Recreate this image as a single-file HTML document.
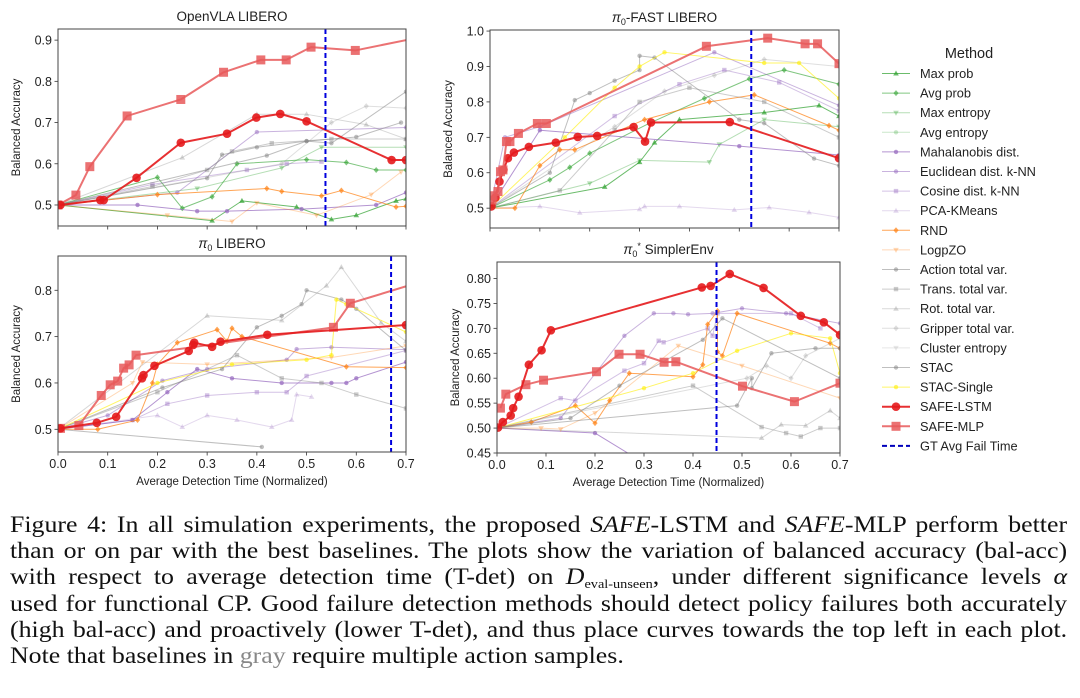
<!DOCTYPE html>
<html><head><meta charset="utf-8">
<style>
html,body{margin:0;padding:0;background:#fff;}
body{width:1080px;height:698px;overflow:hidden;position:relative;font-family:"Liberation Sans",sans-serif;}
#cap{position:absolute;left:10px;top:512px;width:961px;transform:scaleX(1.1);transform-origin:0 0;font-family:"Liberation Serif",serif;font-size:23.5px;line-height:26.2px;color:#111;}
#cap div{text-align:justify;text-align-last:justify;white-space:nowrap;height:26.2px;}
#cap div.last{text-align-last:left;}
#cap sub{font-size:13px;line-height:0;vertical-align:-4px;}
</style></head><body>
<svg id="fig" width="1080" height="500" style="position:absolute;left:0;top:0" xmlns="http://www.w3.org/2000/svg"></svg>
<div id="cap">
<div>Figure 4: In all simulation experiments, the proposed <i>SAFE</i>-LSTM and <i>SAFE</i>-MLP perform better</div>
<div>than or on par with the best baselines. The plots show the variation of balanced accuracy (bal-acc)</div>
<div>with respect to average detection time (T-det) on <i>D</i><sub>eval-unseen</sub>, under different significance levels <i>α</i></div>
<div>used for functional CP. Good failure detection methods should detect policy failures both accurately</div>
<div>(high bal-acc) and proactively (lower T-det), and thus place curves towards the top left in each plot.</div>
<div class="last">Note that baselines in <span style="color:#888">gray</span> require multiple action samples.</div>
</div>
<script>
// ---------- data ----------
const xTicks=[0,0.1,0.2,0.3,0.4,0.5,0.6,0.7];
const gtFail=[0.538,0.524,0.670,0.448];
// OpenVLA LIBERO
const p1_lstm=[[0.005,0.5],[0.085,0.512],[0.092,0.512],[0.158,0.566],[0.247,0.651],[0.34,0.673],[0.399,0.712],[0.447,0.721],[0.5,0.703],[0.671,0.609],[0.7,0.609]];
const p1_mlp=[[0,0.5],[0.036,0.524],[0.064,0.593],[0.139,0.716],[0.247,0.756],[0.333,0.822],[0.408,0.852],[0.459,0.852],[0.509,0.883],[0.598,0.875],[0.72,0.905]];
const p1_maxprob=[[0,0.5],[0.31,0.462],[0.37,0.51],[0.48,0.495],[0.55,0.465],[0.6,0.475],[0.68,0.51],[0.7,0.515]];
const p1_avgprob=[[0,0.5],[0.2,0.567],[0.25,0.492],[0.31,0.52],[0.36,0.6],[0.5,0.61],[0.58,0.603],[0.64,0.585],[0.7,0.585]];
const p1_maxent=[[0,0.5],[0.28,0.54],[0.45,0.59],[0.53,0.64],[0.7,0.64]];
const p1_mahal=[[0,0.5],[0.16,0.5],[0.28,0.485],[0.34,0.485],[0.49,0.49],[0.64,0.5],[0.7,0.53]];
const p1_eucl=[[0,0.5],[0.24,0.53],[0.4,0.677],[0.7,0.688]];
const p1_cos=[[0,0.5],[0.19,0.55],[0.38,0.585],[0.46,0.6],[0.53,0.605]];
const p1_rnd=[[0,0.5],[0.2,0.525],[0.42,0.54],[0.45,0.533],[0.53,0.522],[0.57,0.535],[0.68,0.495],[0.7,0.497]];
const p1_logp=[[0,0.5],[0.22,0.475],[0.35,0.46],[0.4,0.505],[0.52,0.475],[0.63,0.525],[0.69,0.58]];
const p1_act=[[0,0.5],[0.3,0.565],[0.33,0.622],[0.4,0.64],[0.5,0.655],[0.6,0.665],[0.69,0.7]];
const p1_trans=[[0,0.5],[0.19,0.545],[0.3,0.585],[0.35,0.63],[0.43,0.65],[0.55,0.66],[0.7,0.66]];
const p1_rot=[[0,0.5],[0.25,0.615],[0.4,0.72],[0.5,0.72],[0.62,0.695],[0.7,0.66]];
const p1_grip=[[0,0.5],[0.45,0.6],[0.55,0.7],[0.62,0.74],[0.7,0.735]];
const p1_stac=[[0,0.5],[0.42,0.62],[0.5,0.655],[0.55,0.65],[0.7,0.775]];
// pi0-FAST LIBERO
const p2_lstm=[[0.003,0.505],[0.011,0.53],[0.019,0.575],[0.027,0.608],[0.036,0.641],[0.048,0.657],[0.078,0.673],[0.132,0.685],[0.176,0.701],[0.215,0.704],[0.288,0.729],[0.311,0.688],[0.323,0.742],[0.481,0.743],[0.7,0.641]];
const p2_mlp=[[0.004,0.523],[0.006,0.535],[0.016,0.547],[0.021,0.603],[0.026,0.608],[0.033,0.688],[0.04,0.688],[0.057,0.711],[0.095,0.739],[0.113,0.739],[0.434,0.957],[0.557,0.98],[0.632,0.964],[0.657,0.964],[0.7,0.908]];
const p2_act=[[0,0.5],[0.12,0.6],[0.17,0.805],[0.2,0.825],[0.25,0.86],[0.3,0.89],[0.3,0.93],[0.33,0.925],[0.5,0.75],[0.55,0.74],[0.65,0.64],[0.7,0.62]];
const p2_stacs=[[0,0.5],[0.15,0.7],[0.25,0.84],[0.3,0.9],[0.35,0.94],[0.55,0.91],[0.62,0.91],[0.7,0.81]];
const p2_eucl=[[0,0.5],[0.03,0.7],[0.1,0.73],[0.45,0.94],[0.7,0.79]];
const p2_mahal=[[0,0.5],[0.1,0.72],[0.5,0.675],[0.7,0.65]];
const p2_cos=[[0,0.5],[0.25,0.76],[0.38,0.85],[0.47,0.89],[0.58,0.855],[0.7,0.775]];
const p2_pca=[[0,0.5],[0.1,0.505],[0.18,0.487],[0.3,0.497],[0.31,0.505],[0.38,0.505],[0.49,0.495],[0.56,0.502],[0.64,0.488],[0.7,0.474]];
const p2_rnd=[[0,0.5],[0.05,0.5],[0.1,0.62],[0.14,0.665],[0.17,0.665],[0.31,0.75],[0.44,0.8],[0.53,0.82],[0.68,0.733],[0.7,0.72]];
const p2_maxprob=[[0,0.5],[0.23,0.56],[0.3,0.63],[0.33,0.685],[0.38,0.75],[0.55,0.77],[0.66,0.79],[0.7,0.76]];
const p2_avgprob=[[0,0.5],[0.12,0.58],[0.16,0.615],[0.2,0.655],[0.32,0.74],[0.43,0.81],[0.52,0.865],[0.59,0.89],[0.7,0.85]];
const p2_maxent=[[0,0.5],[0.2,0.57],[0.3,0.635],[0.44,0.63],[0.46,0.68],[0.55,0.75],[0.7,0.73]];
const p2_trans=[[0,0.5],[0.14,0.55],[0.25,0.72],[0.3,0.8],[0.4,0.84],[0.55,0.8],[0.7,0.7]];
const p2_grip=[[0,0.5],[0.25,0.73],[0.35,0.83],[0.45,0.875],[0.55,0.92],[0.7,0.9]];
// pi0 LIBERO
const p3_lstm=[[0.005,0.502],[0.078,0.514],[0.117,0.527],[0.169,0.61],[0.172,0.617],[0.194,0.637],[0.263,0.669],[0.272,0.682],[0.274,0.687],[0.31,0.678],[0.327,0.689],[0.421,0.704],[0.7,0.725]];
const p3_mlp=[[0.005,0.502],[0.042,0.508],[0.087,0.573],[0.105,0.596],[0.12,0.604],[0.132,0.632],[0.143,0.639],[0.157,0.66],[0.554,0.72],[0.588,0.772],[0.72,0.815]];
const p3_rnd=[[0,0.5],[0.08,0.5],[0.16,0.52],[0.19,0.6],[0.2,0.64],[0.24,0.687],[0.32,0.715],[0.34,0.69],[0.35,0.718],[0.37,0.7],[0.58,0.635],[0.7,0.633]];
const p3_logp=[[0,0.5],[0.15,0.6],[0.17,0.645],[0.3,0.64],[0.55,0.655],[0.7,0.68]];
const p3_stacs=[[0,0.5],[0.2,0.6],[0.35,0.64],[0.5,0.65],[0.55,0.66],[0.56,0.78],[0.58,0.77],[0.7,0.71]];
const p3_mahal=[[0,0.5],[0.15,0.52],[0.22,0.58],[0.28,0.63],[0.35,0.61],[0.45,0.6],[0.55,0.6],[0.58,0.6],[0.6,0.61],[0.7,0.645]];
const p3_eucl=[[0,0.5],[0.1,0.53],[0.21,0.605],[0.3,0.63],[0.46,0.65],[0.48,0.673],[0.55,0.677],[0.7,0.672]];
const p3_cos=[[0,0.5],[0.15,0.52],[0.22,0.555],[0.3,0.573],[0.4,0.58],[0.46,0.58],[0.5,0.615],[0.7,0.67]];
const p3_pca=[[0,0.5],[0.2,0.53],[0.25,0.505],[0.3,0.53],[0.36,0.52],[0.43,0.505],[0.47,0.52],[0.48,0.575],[0.51,0.57]];
const p3_act=[[0,0.5],[0.21,0.59],[0.33,0.63],[0.4,0.72],[0.45,0.745],[0.49,0.77],[0.5,0.8],[0.57,0.78],[0.6,0.76],[0.7,0.67]];
const p3_rot=[[0,0.5],[0.3,0.745],[0.45,0.735],[0.54,0.81],[0.57,0.85],[0.65,0.73],[0.7,0.69]];
const p3_trans=[[0,0.5],[0.2,0.58],[0.36,0.66],[0.45,0.61],[0.53,0.6],[0.6,0.575],[0.7,0.545]];
const p3_stac=[[0,0.5],[0.41,0.462]];
// pi0* SimplerEnv
const p4_lstm=[[0.002,0.501],[0.012,0.512],[0.028,0.525],[0.033,0.54],[0.044,0.563],[0.065,0.627],[0.091,0.656],[0.11,0.696],[0.418,0.782],[0.436,0.785],[0.475,0.809],[0.544,0.781],[0.62,0.725],[0.667,0.712],[0.7,0.687]];
const p4_mlp=[[0.007,0.54],[0.018,0.568],[0.059,0.587],[0.095,0.596],[0.203,0.613],[0.249,0.648],[0.292,0.648],[0.341,0.632],[0.365,0.633],[0.501,0.584],[0.607,0.553],[0.7,0.59]];
const p4_eucl=[[0,0.5],[0.13,0.52],[0.26,0.685],[0.32,0.73],[0.36,0.73],[0.39,0.728],[0.44,0.73],[0.5,0.74],[0.59,0.73],[0.7,0.71]];
const p4_mahal=[[0,0.5],[0.2,0.49],[0.3,0.43]];
const p4_cos=[[0,0.5],[0.13,0.56],[0.16,0.555],[0.26,0.615],[0.3,0.63],[0.33,0.675],[0.34,0.672],[0.43,0.7],[0.44,0.685],[0.45,0.73],[0.6,0.73],[0.66,0.7]];
const p4_rnd=[[0,0.5],[0.07,0.512],[0.16,0.545],[0.2,0.51],[0.23,0.555],[0.27,0.61],[0.4,0.603],[0.42,0.627],[0.43,0.708],[0.45,0.735],[0.45,0.653],[0.46,0.645],[0.49,0.73],[0.68,0.67],[0.7,0.66]];
const p4_logp=[[0,0.5],[0.09,0.5],[0.13,0.498],[0.2,0.53],[0.37,0.665],[0.5,0.625],[0.7,0.56]];
const p4_stacs=[[0,0.5],[0.3,0.58],[0.4,0.61],[0.49,0.655],[0.6,0.69],[0.68,0.68],[0.7,0.61]];
const p4_act=[[0,0.5],[0.15,0.52],[0.25,0.585],[0.42,0.677],[0.46,0.72],[0.7,0.6]];
const p4_trans=[[0,0.5],[0.4,0.585],[0.54,0.502],[0.59,0.49],[0.62,0.483],[0.66,0.5],[0.7,0.5]];
const p4_rot=[[0,0.5],[0.54,0.48],[0.58,0.507],[0.63,0.505],[0.68,0.535],[0.7,0.52]];
const p4_stac=[[0,0.5],[0.49,0.545],[0.52,0.6],[0.52,0.58],[0.56,0.65],[0.65,0.66],[0.7,0.66]];
const p4_grip=[[0,0.5],[0.51,0.6],[0.55,0.625],[0.6,0.6],[0.63,0.645],[0.7,0.68]];

const legendLabels=["Max prob","Avg prob","Max entropy","Avg entropy","Mahalanobis dist.","Euclidean dist. k-NN","Cosine dist. k-NN","PCA-KMeans","RND","LogpZO","Action total var.","Trans. total var.","Rot. total var.","Gripper total var.","Cluster entropy","STAC","STAC-Single","SAFE-LSTM","SAFE-MLP","GT Avg Fail Time"];

// ---------- styles (not data) ----------
const ST={
 maxprob:{c:"#2ca02c",o:0.7,m:"tri"},avgprob:{c:"#2ca02c",o:0.6,m:"dia"},maxent:{c:"#2ca02c",o:0.35,m:"tridown"},avgent:{c:"#2ca02c",o:0.25,m:"circ"},
 mahal:{c:"#9467bd",o:0.7,m:"circ"},eucl:{c:"#9467bd",o:0.5,m:"circ"},cos:{c:"#9467bd",o:0.4,m:"sq"},pca:{c:"#9467bd",o:0.25,m:"tri"},
 rnd:{c:"#ff7f0e",o:0.7,m:"dia"},logp:{c:"#ff7f0e",o:0.3,m:"tridown"},
 act:{c:"#7f7f7f",o:0.5,m:"circ"},trans:{c:"#7f7f7f",o:0.4,m:"sq"},rot:{c:"#7f7f7f",o:0.3,m:"tri"},grip:{c:"#7f7f7f",o:0.25,m:"dia"},clus:{c:"#7f7f7f",o:0.18,m:"tridown"},
 stac:{c:"#7f7f7f",o:0.5,m:"circ"},stacs:{c:"#ffee00",o:0.6,m:"circ"},
 lstm:{c:"#e41a1c",o:0.9,m:"bigcirc",w:2},mlp:{c:"#e8595b",o:0.85,m:"bigsq",w:2}
};
const legendKeys=["maxprob","avgprob","maxent","avgent","mahal","eucl","cos","pca","rnd","logp","act","trans","rot","grip","clus","stac","stacs","lstm","mlp","gt"];

const NS="http://www.w3.org/2000/svg";
const svg=document.getElementById('fig');
function el(t,a,p){const e=document.createElementNS(NS,t);for(const k in a)e.setAttribute(k,a[k]);(p||svg).appendChild(e);return e;}

function marker(g,m,x,y,c,o){
 let e;
 if(m==="circ")e=el('circle',{cx:x,cy:y,r:2.2,fill:c,'fill-opacity':o},g);
 else if(m==="bigcirc")e=el('circle',{cx:x,cy:y,r:4.3,fill:c,'fill-opacity':o},g);
 else if(m==="sq")e=el('rect',{x:x-2.2,y:y-2.2,width:4.4,height:4.4,fill:c,'fill-opacity':o},g);
 else if(m==="bigsq")e=el('rect',{x:x-4.5,y:y-4.5,width:9,height:9,fill:c,'fill-opacity':o},g);
 else if(m==="tri")e=el('polygon',{points:`${x},${y-3} ${x-2.8},${y+2} ${x+2.8},${y+2}`,fill:c,'fill-opacity':o},g);
 else if(m==="tridown")e=el('polygon',{points:`${x},${y+3} ${x-2.8},${y-2} ${x+2.8},${y-2}`,fill:c,'fill-opacity':o},g);
 else e=el('polygon',{points:`${x},${y-3} ${x+2.6},${y} ${x},${y+3} ${x-2.6},${y}`,fill:c,'fill-opacity':o},g);
 return e;
}

const plots=[
 {name:"openvla-libero",L:58,R:406,T:29,B:226,y0:0.449,y1:0.927,yt:[0.5,0.6,0.7,0.8,0.9],dec:1,xl:false,
  series:{maxprob:p1_maxprob,avgprob:p1_avgprob,maxent:p1_maxent,mahal:p1_mahal,eucl:p1_eucl,cos:p1_cos,rnd:p1_rnd,logp:p1_logp,act:p1_act,trans:p1_trans,rot:p1_rot,grip:p1_grip,stac:p1_stac,mlp:p1_mlp,lstm:p1_lstm}},
 {name:"pi0-fast-libero",L:490,R:839,T:30,B:228,y0:0.444,y1:1.003,yt:[0.5,0.6,0.7,0.8,0.9,1.0],dec:1,xl:false,
  series:{pca:p2_pca,maxprob:p2_maxprob,avgprob:p2_avgprob,maxent:p2_maxent,mahal:p2_mahal,eucl:p2_eucl,cos:p2_cos,rnd:p2_rnd,act:p2_act,trans:p2_trans,grip:p2_grip,stacs:p2_stacs,lstm:p2_lstm,mlp:p2_mlp}},
 {name:"pi0-libero",L:58,R:406,T:256,B:452,y0:0.451,y1:0.874,yt:[0.5,0.6,0.7,0.8],dec:1,xl:true,
  series:{pca:p3_pca,mahal:p3_mahal,eucl:p3_eucl,cos:p3_cos,rnd:p3_rnd,logp:p3_logp,act:p3_act,rot:p3_rot,trans:p3_trans,stac:p3_stac,stacs:p3_stacs,mlp:p3_mlp,lstm:p3_lstm}},
 {name:"pi0star-simplerenv",L:497,R:840,T:262,B:453,y0:0.45,y1:0.833,yt:[0.45,0.5,0.55,0.6,0.65,0.7,0.75,0.8],dec:2,xl:true,
  series:{mahal:p4_mahal,eucl:p4_eucl,cos:p4_cos,rnd:p4_rnd,logp:p4_logp,stacs:p4_stacs,act:p4_act,trans:p4_trans,rot:p4_rot,stac:p4_stac,grip:p4_grip,mlp:p4_mlp,lstm:p4_lstm}}
];

plots.forEach((p,i)=>{
 const sx=v=>p.L+(v/0.7)*(p.R-p.L);
 const sy=v=>p.B-(v-p.y0)/(p.y1-p.y0)*(p.B-p.T);
 const g=el('g',{});
 
 
 const cp=el('clipPath',{id:'cp'+i},g);el('rect',{x:p.L,y:p.T,width:p.R-p.L,height:p.B-p.T},cp);
 const cx=(p.L+p.R)/2, ty=p.T-8;
 const t=el('text',{x:cx,y:ty,'text-anchor':'middle','font-size':13.5,fill:'#222'},g);
 if(i===0){t.textContent="OpenVLA LIBERO";}
 else if(i===1){t.innerHTML='<tspan font-style="italic">π</tspan><tspan font-size="9" dy="3">0</tspan><tspan dy="-3">-FAST LIBERO</tspan>';}
 else if(i===2){t.innerHTML='<tspan font-style="italic">π</tspan><tspan font-size="9" dy="3">0</tspan><tspan dy="-3"> LIBERO</tspan>';}
 else {t.innerHTML='<tspan font-style="italic">π</tspan><tspan font-size="9" dy="3">0</tspan><tspan font-size="9" dy="-8">*</tspan><tspan dy="5"> SimplerEnv</tspan>';}
 
 
 p.yt.forEach(v=>{
  const y=sy(v);
  el('line',{x1:p.L-3.5,x2:p.L,y1:y,y2:y,stroke:'#333','stroke-width':0.8},g);
  const tl=el('text',{x:p.L-6,y:y+4.5,'text-anchor':'end','font-size':12.5,fill:'#222'},g);
  tl.textContent=v.toFixed(p.dec);
  
  
 });
 xTicks.forEach(v=>{
  const x=sx(v);
  el('line',{x1:x,x2:x,y1:p.B,y2:p.B+3.5,stroke:'#333','stroke-width':0.8},g);
  if(p.xl){const tl=el('text',{x:x,y:p.B+16,'text-anchor':'middle','font-size':12.5,fill:'#222'},g);tl.textContent=v.toFixed(1);
   
   }
 });
 const yl=el('text',{x:0,y:0,transform:`translate(${p.L-38},${(p.T+p.B)/2}) rotate(-90)`,'text-anchor':'middle','font-size':11.5,fill:'#222'},g);
 yl.textContent="Balanced Accuracy";
 
 
 if(p.xl){const xl=el('text',{x:cx,y:p.B+33,'text-anchor':'middle','font-size':11.5,fill:'#222'},g);xl.textContent="Average Detection Time (Normalized)";
  
  }
 const dg=el('g',{'clip-path':`url(#cp${i})`},g);
 for(const k in p.series){
  const s=ST[k],pts=p.series[k];
  const sg=el('g',{},dg);
  
  
  el('polyline',{points:pts.map(q=>sx(q[0])+','+sy(q[1])).join(' '),fill:'none',stroke:s.c,'stroke-opacity':s.o,'stroke-width':s.w||1,'stroke-linejoin':'round'},sg);
  pts.forEach((q,j)=>{ if(j===0 && !s.w) return; marker(sg,s.m,sx(q[0]),sy(q[1]),s.c,s.o);});
 }
 const gl=el('line',{x1:sx(gtFail[i]),x2:sx(gtFail[i]),y1:p.T,y2:p.B,stroke:'#0000dd','stroke-width':2,'stroke-dasharray':'5,3'},dg);
 
 
 el('rect',{x:p.L,y:p.T,width:p.R-p.L,height:p.B-p.T,fill:'none',stroke:'#444','stroke-width':1},g);
});

const lg=el('g',{});


const lt=el('text',{x:969,y:58,'text-anchor':'middle','font-size':14.5,fill:'#222'},lg);
lt.textContent="Method";
legendLabels.forEach((lab,j)=>{
 const y=73.5+j*19.6;
 const e=el('g',{},lg);
 
 
 const k=legendKeys[j];
 if(k==="gt"){el('line',{x1:882,x2:910,y1:y,y2:y,stroke:'#0000bb','stroke-width':2,'stroke-dasharray':'5,3'},e);}
 else{const s=ST[k];el('line',{x1:882,x2:910,y1:y,y2:y,stroke:s.c,'stroke-opacity':s.o,'stroke-width':s.w||1},e);marker(e,s.m,896,y,s.c,s.o);}
 const tx=el('text',{x:920,y:y+4.5,'font-size':12.8,fill:'#222'},e);
 tx.textContent=lab;
});
</script>
</body></html>
